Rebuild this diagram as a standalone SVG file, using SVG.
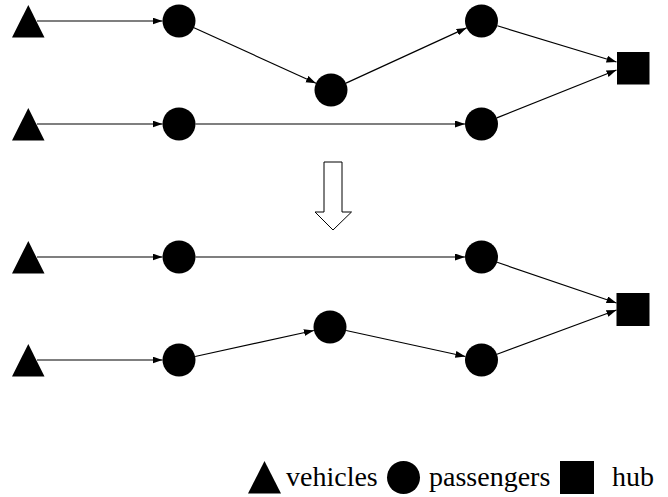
<svg xmlns="http://www.w3.org/2000/svg" width="668" height="497" viewBox="0 0 668 497">
<style>
.n{fill:#000;stroke:none}
.e{stroke:#000;stroke-width:1.2;fill:none;marker-end:url(#ah)}
text{font-family:'Liberation Serif','Times New Roman','DejaVu Serif',serif;font-size:28px;fill:#000}
</style>
<defs>
<marker id="ah" markerUnits="userSpaceOnUse" markerWidth="10" markerHeight="8" refX="10" refY="3.5" orient="auto">
<path d="M0,0 L10,3.5 L0,7 z" fill="#000"/>
</marker>
</defs>
<rect width="668" height="497" fill="#fff"/>
<g id="connectors">
<line class="e" x1="37" y1="21" x2="162.5" y2="21"/>
<line class="e" x1="194" y1="27.8" x2="316" y2="83.2"/>
<line class="e" x1="346" y1="83.1" x2="466.5" y2="27.9"/>
<line class="e" x1="497.3" y1="25.8" x2="616.5" y2="62"/>
<line class="e" x1="37" y1="124" x2="162.5" y2="124"/>
<line class="e" x1="195.5" y1="124" x2="465" y2="124"/>
<line class="e" x1="496.8" y1="117.9" x2="616.5" y2="70"/>
<line class="e" x1="37" y1="257" x2="162.5" y2="257"/>
<line class="e" x1="195.5" y1="257" x2="465" y2="257"/>
<line class="e" x1="497.1" y1="262.3" x2="616.5" y2="303"/>
<line class="e" x1="37" y1="360" x2="162.5" y2="360"/>
<line class="e" x1="195.1" y1="356.5" x2="313.9" y2="330.5"/>
<line class="e" x1="346.1" y1="330.5" x2="465.4" y2="356.5"/>
<line class="e" x1="497" y1="354.3" x2="616.5" y2="310"/>
</g>
<g id="transform-arrow">
<path d="M324,162 L342,162 L342,212 L351.5,212 L333,230 L315,212 L324,212 Z" fill="#fff" stroke="#000" stroke-width="1"/>
</g>
<g id="v1"><polygon class="n" points="12,37.5 28.3,5 44.5,37.5"/></g>
<g id="v2"><polygon class="n" points="12,140.5 28.3,108 44.5,140.5"/></g>
<g id="v3"><polygon class="n" points="12,273.5 28.3,241 44.5,273.5"/></g>
<g id="v4"><polygon class="n" points="12,376.5 28.3,344 44.5,376.5"/></g>
<g id="p1"><circle class="n" cx="179" cy="21" r="16.5"/></g>
<g id="p2"><circle class="n" cx="331" cy="90" r="16.5"/></g>
<g id="p3"><circle class="n" cx="481.5" cy="21" r="16.5"/></g>
<g id="p4"><circle class="n" cx="179" cy="124" r="16.5"/></g>
<g id="p5"><circle class="n" cx="481.5" cy="124" r="16.5"/></g>
<g id="p6"><circle class="n" cx="179" cy="257" r="16.5"/></g>
<g id="p7"><circle class="n" cx="481.5" cy="257" r="16.5"/></g>
<g id="p8"><circle class="n" cx="179" cy="360" r="16.5"/></g>
<g id="p9"><circle class="n" cx="330" cy="327" r="16.5"/></g>
<g id="p10"><circle class="n" cx="481.5" cy="360" r="16.5"/></g>
<g id="hub1"><rect class="n" x="617" y="52" width="32.5" height="32.5"/></g>
<g id="hub2"><rect class="n" x="616.5" y="293" width="33" height="33"/></g>
<g id="legend">
<polygon class="n" points="248,493.5 264.5,461 281,493.5"/>
<text x="286" y="486" font-family="Liberation Serif, Times New Roman, serif">vehicles</text>
<circle class="n" cx="403.5" cy="477.5" r="16.5"/>
<text x="429" y="486" font-family="Liberation Serif, Times New Roman, serif">passengers</text>
<rect class="n" x="560" y="461" width="34" height="33"/>
<text x="612" y="486" font-family="Liberation Serif, Times New Roman, serif">hub</text>
</g>
</svg>
